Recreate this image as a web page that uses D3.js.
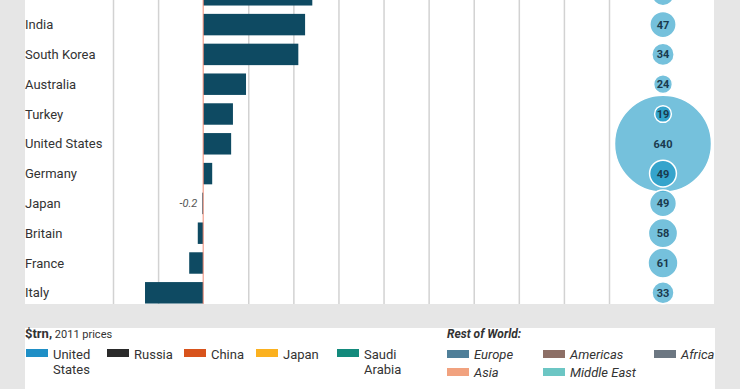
<!DOCTYPE html>
<html>
<head>
<meta charset="utf-8">
<script src="https://cdnjs.cloudflare.com/ajax/libs/d3/7.8.5/d3.min.js"></script>
<style>
  html, body { margin: 0; padding: 0; background: #e6e6e6; }
  svg { display: block; font-family: Roboto, 'Open Sans', sans-serif; }
  .grid line { stroke: #d2d2d2; stroke-width: 1.5; }
  .grid path { display: none; }
  .country { font-size: 13px; fill: #333; }
  .bubble-label { font-size: 11px; font-weight: 700; fill: #1a3a4e; }
  .legend text { font-size: 13px; fill: #333; }
</style>
</head>
<body>
<svg width="740" height="389"></svg>
<script>
const countries = ['Brazil', 'India', 'South Korea', 'Australia', 'Turkey', 'United States',
    'Germany', 'Japan', 'Britain', 'France', 'Italy'];
const change = [24.2, 22.6, 21.1, 9.5, 6.6, 6.2, 2.0, -0.2, -1.2, -3.1, -12.9];
const spending = [33, 47, 34, 24, 19, 640, 49, 49, 58, 61, 33];
const gridValues = [-20, -10, 0, 10, 20, 30, 40, 50, 60, 70, 80, 90];

const mainLegend = ['United States', 'Russia', 'China', 'Japan', 'Saudi Arabia'];
const mainColors = ['#1f8fc6', '#2a2a2a', '#d8531c', '#fbb11f', '#138a7c'];
const restLegend = ['Europe', 'Asia', 'Americas', 'Middle East', 'Africa'];
const restColors = ['#4f7f99', '#f1a27f', '#8d6f66', '#6cc6c4', '#6c7782'];

const rows = countries.map((c, i) => ({ country: c, change: change[i], spending: spending[i] }));

const svg = d3.select('svg');

const panel = { left: 25, right: 714, bottom: 304 };
const legendTop = 328;

// white panels
svg.append('rect')
    .attr('x', panel.left).attr('y', 0)
    .attr('width', panel.right - panel.left).attr('height', panel.bottom)
    .attr('fill', '#fff');
svg.append('rect')
    .attr('x', panel.left).attr('y', legendTop)
    .attr('width', panel.right + 1 - panel.left).attr('height', 389 - legendTop)
    .attr('fill', '#fff');

const xScale = d3.scaleLinear()
    .domain([-20, 90])
    .range([113, 609]);

const yScale = d3.scaleBand()
    .domain(countries)
    .range([-20.1, 307.7])
    .paddingInner(0.28)
    .paddingOuter(0.14);

const rScale = d3.scaleSqrt()
    .domain([0, 640])
    .range([0, 48.5]);

const bubbleX = 663;

// vertical grid lines
svg.append('g')
    .attr('class', 'grid')
    .attr('transform', `translate(0, ${panel.bottom})`)
    .call(d3.axisBottom(xScale)
        .tickValues(gridValues.filter(v => v !== 0))
        .tickSize(-panel.bottom)
        .tickFormat('')
    );

svg.append('g')
    .selectAll('rect')
    .data(rows)
    .enter()
    .append('rect')
    .attr('x', d => xScale(Math.min(0, d.change)))
    .attr('y', d => yScale(d.country))
    .attr('width', d => Math.abs(xScale(d.change) - xScale(0)))
    .attr('height', yScale.bandwidth())
    .attr('fill', '#0e4a62');

// zero line
svg.append('line')
    .attr('x1', xScale(0)).attr('x2', xScale(0))
    .attr('y1', 0).attr('y2', panel.bottom)
    .attr('stroke', '#f08c76')
    .attr('stroke-width', 1);

// small values get a label
svg.append('g')
    .selectAll('text')
    .data(rows.filter(d => Math.abs(d.change) < 1))
    .enter()
    .append('text')
    .attr('x', d => xScale(Math.min(0, d.change)) - 5)
    .attr('y', d => yScale(d.country) + yScale.bandwidth() / 2)
    .attr('dy', '0.35em')
    .attr('text-anchor', 'end')
    .style('font-size', '11px')
    .style('font-style', 'italic')
    .style('fill', '#555')
    .text(d => d3.format('.1f')(d.change).replace('−', '-'));

svg.append('g')
    .selectAll('text')
    .data(rows)
    .enter()
    .append('text')
    .attr('class', 'country')
    .attr('x', panel.left)
    .attr('y', d => yScale(d.country) + yScale.bandwidth() / 2)
    .attr('dy', '0.35em')
    .text(d => d.country);

// bubbles
const bubbleOrder = rows.slice().sort((a, b) => b.spending - a.spending);
svg.append('g')
    .selectAll('circle')
    .data(bubbleOrder)
    .enter()
    .append('circle')
    .attr('cx', bubbleX)
    .attr('cy', d => yScale(d.country) + yScale.bandwidth() / 2)
    .attr('r', d => rScale(d.spending))
    .attr('fill', 'rgb(0,140,190)')
    .attr('fill-opacity', 0.54)
    .attr('stroke', '#fff')
    .attr('stroke-width', 1.5);

svg.append('g')
    .selectAll('text')
    .data(rows)
    .enter()
    .append('text')
    .attr('class', 'bubble-label')
    .attr('x', bubbleX)
    .attr('y', d => yScale(d.country) + yScale.bandwidth() / 2)
    .attr('dy', '0.36em')
    .attr('text-anchor', 'middle')
    .text(d => d.spending);

// legend
const legend = svg.append('g').attr('class', 'legend');

const unitLabel = legend.append('text')
    .attr('x', panel.left)
    .attr('y', 338);
unitLabel.append('tspan').style('font-weight', 700).text('$trn,');
unitLabel.append('tspan').style('font-size', '11px').text(' 2011 prices');

const mainX = [26, 107, 184, 256, 337];
mainLegend.forEach((name, i) => {
    const g = legend.append('g').attr('transform', `translate(${mainX[i]}, 349)`);
    g.append('rect').attr('width', 22).attr('height', 8).attr('fill', mainColors[i]);
    const words = name.split(' ');
    words.forEach((w, j) => {
        g.append('text').attr('x', 27).attr('y', 10 + j * 15).text(w);
    });
});

legend.append('text')
    .attr('x', 447)
    .attr('y', 338)
    .style('font-size', '12px')
    .style('font-weight', 700)
    .style('font-style', 'italic')
    .text('Rest of World:');

const restPos = [[447, 350], [447, 368], [543, 350], [543, 368], [654, 350]];
restLegend.forEach((name, i) => {
    const g = legend.append('g').attr('transform', `translate(${restPos[i][0]}, ${restPos[i][1]})`);
    g.append('rect').attr('width', 22).attr('height', 8).attr('fill', restColors[i]);
    g.append('text').attr('x', 27).attr('y', 9).style('font-style', 'italic').text(name);
});
</script>
</body>
</html>
